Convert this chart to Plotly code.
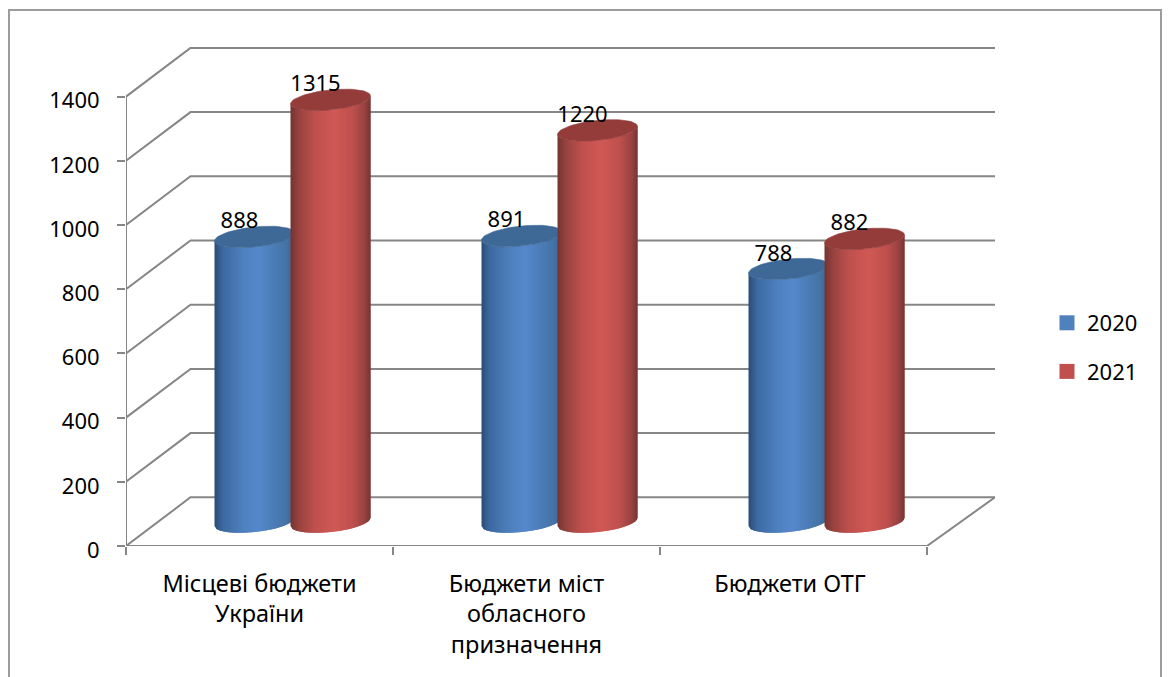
import math
import plotly.graph_objects as go

# Chart data
categories = ["Місцеві бюджети<br>України", "Бюджети міст<br>обласного<br>призначення", "Бюджети ОТГ"]
category_positions = [0, 1, 1.987]
series_names = ["2020", "2021"]
values_2020 = [888, 891, 788]
values_2021 = [1315, 1220, 882]
y_ticks = [0, 200, 400, 600, 800, 1000, 1200, 1400]

FONT = "Noto Sans"
FONT_SIZE = 22
CATEGORY_FONT_SIZE = 23.5
GREY = "#868686"

# Pixel frame of the plot area and the data scale that follows from it
LEFT, RIGHT, TOP, BOTTOM = 126, 995, 47, 546
W, H = 1168, 677
PX_PER_CAT = 267.0
PX_PER_UNIT = 0.321
dx = 1 / PX_PER_CAT      # one pixel in category units
dy = 1 / PX_PER_UNIT     # one pixel in value units

X_MIN = -0.5
X_MAX = X_MIN + (RIGHT - LEFT) * dx
Y_MAX = (BOTTOM - TOP) * dy
X_FRONT_END = 2.5

# Oblique depth of the floor and walls
DEPTH_X = 64.5 * dx
DEPTH_Y = 48.7 * dy

# Cylinder geometry
RADIUS = 40 * dx
CAP_B = 10 * dy
CAP_TILT = 4 * dy
BASE_LIFT = 24 * dy
GROUP_SHIFT = 31.5 * dx
SHIFT_2020 = -36.5 * dx
SHIFT_2021 = 39.5 * dx

# Horizontal shading across a cylinder: (position 0..1, colour)
shade_2020 = [(0, (40, 75, 115)), (0.1, (60, 105, 160)), (0.35, (78, 128, 190)), (0.55, (85, 136, 204)),
              (0.9, (68, 115, 165)), (1, (60, 100, 140))]
shade_2021 = [(0, (115, 52, 50)), (0.1, (150, 66, 63)), (0.3, (190, 80, 77)), (0.55, (208, 88, 84)),
              (0.78, (190, 80, 77)), (0.93, (150, 66, 64)), (1, (118, 52, 50))]
cap_colors = ["#3e6896", "#933c3a"]
legend_colors = ["#4f81bd", "#c0504d"]
BANDS = 40


def shade_at(stops, p):
    for (p0, c0), (p1, c1) in zip(stops, stops[1:]):
        if p <= p1:
            f = (p - p0) / (p1 - p0)
            r, g, b = (round(a + (z - a) * f) for a, z in zip(c0, c1))
            return f"rgb({r},{g},{b})"
    return f"rgb{stops[-1][1]}"


def rim_low(u, yc):
    """Lower edge of a tilted ellipse at relative position u in [-1, 1]."""
    return yc + CAP_TILT * u - CAP_B * math.sqrt(max(0.0, 1 - u * u))


fig = go.Figure()


def add_line(xs, ys):
    fig.add_trace(go.Scatter(x=xs, y=ys, mode="lines", line=dict(color=GREY, width=2),
                             cliponaxis=False, showlegend=False, hoverinfo="skip"))


# Back wall gridlines and the diagonals on the side wall
gx, gy = [], []
for t in y_ticks:
    gx += [X_MIN, X_MIN + DEPTH_X, X_MAX, None]
    gy += [t, t + DEPTH_Y, t + DEPTH_Y, None]
add_line(gx, gy)
# Front axis lines and the right floor edge
add_line([X_MIN, X_MIN], [0, y_ticks[-1]])
add_line([X_MIN, X_FRONT_END, X_MAX], [0, 0, DEPTH_Y])


# Cylinders, the first series behind the second. Bands are painted left to
# right, each reaching under the next one so no seams show between them.
def add_cylinders(values, offset, stops, cap_color):
    for b in range(BANDS):
        u0 = -1 + 2 * b / BANDS
        u1 = min(1.0, -1 + 2 * (b + 2) / BANDS)
        xs, ys = [], []
        for i, v in enumerate(values):
            c = i + GROUP_SHIFT + offset
            steps = [u0, (u0 + u1) / 2, u1]
            xs += [c + u * RADIUS for u in steps] + [c + u * RADIUS for u in reversed(steps)] + [c + u0 * RADIUS, None]
            ys += [rim_low(u, BASE_LIFT) for u in steps] + [rim_low(u, BASE_LIFT + v) for u in reversed(steps)]
            ys += [rim_low(u0, BASE_LIFT), None]
        color = shade_at(stops, (b + 0.5) / BANDS)
        fig.add_trace(go.Scatter(x=xs, y=ys, mode="lines", fill="toself", fillcolor=color,
                                 line=dict(color=color, width=0), cliponaxis=False,
                                 showlegend=False, hoverinfo="skip"))
    xs, ys = [], []
    for i, v in enumerate(values):
        c = i + GROUP_SHIFT + offset
        for k in range(73):
            a = 2 * math.pi * k / 72
            xs.append(c + RADIUS * math.cos(a))
            ys.append(BASE_LIFT + v + CAP_TILT * math.cos(a) + CAP_B * math.sin(a))
        xs.append(None)
        ys.append(None)
    fig.add_trace(go.Scatter(x=xs, y=ys, mode="lines", fill="toself", fillcolor=cap_color,
                             line=dict(color=cap_color, width=0.6), cliponaxis=False,
                             showlegend=False, hoverinfo="skip"))


add_cylinders(values_2020, SHIFT_2020, shade_2020, cap_colors[0])
add_cylinders(values_2021, SHIFT_2021, shade_2021, cap_colors[1])

# Value labels above each cylinder
for values, offset in ((values_2020, SHIFT_2020), (values_2021, SHIFT_2021)):
    fig.add_trace(go.Scatter(
        x=[i + GROUP_SHIFT + offset - 15 * dx for i in range(len(values))],
        y=[v + BASE_LIFT + 14 * dy for v in values],
        text=[str(v) for v in values], mode="text", textposition="middle center",
        textfont=dict(family=FONT, size=FONT_SIZE, color="black"),
        cliponaxis=False, showlegend=False, hoverinfo="skip"))

# Legend entries
for name, color in zip(series_names, legend_colors):
    fig.add_trace(go.Scatter(x=[None], y=[None], mode="markers", name=name, legendgroup=name,
                             marker=dict(symbol="square", size=15, color=color)))

fig.update_layout(
    width=W, height=H, autosize=False,
    margin=dict(l=LEFT, r=W - RIGHT, t=TOP, b=H - BOTTOM, pad=0),
    paper_bgcolor="white", plot_bgcolor="white",
    font=dict(family=FONT, size=FONT_SIZE, color="black"),
    xaxis=dict(range=[X_MIN, X_MAX], tickmode="array", tickvals=category_positions, ticktext=categories,
               tickfont=dict(size=CATEGORY_FONT_SIZE),
               ticks="", ticklen=0, showgrid=False, zeroline=False, showline=False,
               ticklabelstandoff=21,
               minor=dict(tickmode="array", tickvals=[-0.5, 0.5, 1.5, 2.5], ticks="outside",
                          ticklen=8, tickwidth=2, tickcolor=GREY, showgrid=False)),
    yaxis=dict(range=[0, Y_MAX], tickmode="array", tickvals=y_ticks, ticks="outside", ticklen=8,
               tickwidth=2, tickcolor=GREY, showgrid=False, zeroline=False, showline=False,
               ticklabelstandoff=13, ticklabelshift=4),
    legend=dict(x=(1047 - LEFT) / (RIGHT - LEFT), y=(BOTTOM - 302) / (BOTTOM - TOP),
                xanchor="left", yanchor="top", tracegroupgap=17,
                bgcolor="rgba(0,0,0,0)", borderwidth=0, itemclick=False, itemdoubleclick=False),
    # Outer chart frame; its bottom edge runs past the page
    shapes=[dict(type="rect", xref="paper", yref="paper", layer="below",
                 x0=(9 - LEFT) / (RIGHT - LEFT), x1=(1161 - LEFT) / (RIGHT - LEFT),
                 y0=(BOTTOM - 690) / (BOTTOM - TOP), y1=(BOTTOM - 10) / (BOTTOM - TOP),
                 line=dict(color="#9c9c9c", width=2), fillcolor="rgba(0,0,0,0)")],
)

fig.write_html("out.html", config=dict(displayModeBar=False))
